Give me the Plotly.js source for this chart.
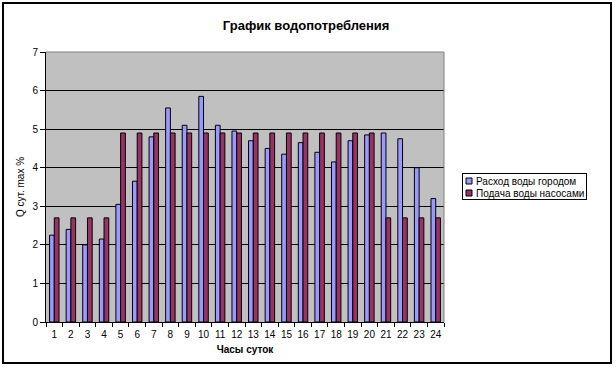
<!DOCTYPE html>
<html>
<head>
<meta charset="utf-8">
<script src="https://cdn.plot.ly/plotly-3.0.1.min.js"></script>
<style>
  html, body { margin: 0; padding: 0; background: #fff; }
  #wrap { position: relative; width: 616px; height: 367px; }
  #chart { position: absolute; left: 0; top: 0; width: 616px; height: 367px; }
  #frame { position: absolute; left: 2px; top: 2px; width: 606px; height: 358px; border: 2px solid #000; pointer-events: none; }
</style>
</head>
<body>
<div id="wrap">
  <div id="chart"></div>
  <div id="frame"></div>
</div>
<script>
const hours = ['1','2','3','4','5','6','7','8','9','10','11','12','13','14','15','16','17','18','19','20','21','22','23','24'];
const cityConsumption = [2.25, 2.4, 2.0, 2.15, 3.05, 3.65, 4.8, 5.55, 5.1, 5.85, 5.1, 4.95, 4.7, 4.5, 4.35, 4.65, 4.4, 4.15, 4.7, 4.85, 4.9, 4.75, 4.0, 3.2];
const pumpSupply = [2.7, 2.7, 2.7, 2.7, 4.9, 4.9, 4.9, 4.9, 4.9, 4.9, 4.9, 4.9, 4.9, 4.9, 4.9, 4.9, 4.9, 4.9, 4.9, 4.9, 2.7, 2.7, 2.7, 2.7];
const seriesNames = ['Расход воды городом', 'Подача воды насосами'];
const titleText = 'График водопотребления';
const xTitle = 'Часы суток';
const yTitle = 'Q сут. max %';

const font = 'Liberation Sans, Arial, sans-serif';

const traces = [
  { type: 'bar', name: seriesNames[0], x: hours, y: cityConsumption,
    marker: { color: '#9999FF', line: { color: '#000', width: 1 } } },
  { type: 'bar', name: seriesNames[1], x: hours, y: pumpSupply,
    marker: { color: '#993366', line: { color: '#000', width: 1 } } }
];

const layout = {
  width: 616, height: 367,
  margin: { l: 46, r: 160, t: 52, b: 45, pad: 0 },
  paper_bgcolor: '#fff', plot_bgcolor: '#C0C0C0',
  font: { family: font, size: 10, color: '#000' },
  title: { text: '<b>' + titleText + '</b>', font: { family: font, size: 13, color: '#000' },
           x: 0.497, xanchor: 'center', y: 0.93, yanchor: 'middle' },
  barmode: 'group', bargap: 0.43, bargroupgap: 0,
  showlegend: true,
  legend: { x: 1.01, xanchor: 'left', y: 0.5, yanchor: 'middle',
            bordercolor: '#000', borderwidth: 1, bgcolor: '#fff',
            font: { family: font, size: 10, color: '#000' },
            tracegroupgap: 0, itemwidth: 30 },
  xaxis: {
    type: 'category', showgrid: false, showline: true, linecolor: '#000', linewidth: 1,
    ticks: 'outside', tickson: 'boundaries', ticklen: 4, tickcolor: '#000', tickangle: 0,
    ticklabelstandoff: 3,
    tickfont: { family: font, size: 10, color: '#000' },
    title: { text: '<b>' + xTitle + '</b>', font: { family: font, size: 10, color: '#000' }, standoff: 6 },
    fixedrange: true
  },
  yaxis: {
    range: [0, 7], dtick: 1, tick0: 0, showgrid: true, gridcolor: '#000', gridwidth: 1,
    zeroline: false, showline: true, linecolor: '#000', linewidth: 1,
    ticks: 'outside', ticklen: 5, tickcolor: '#000',
    tickfont: { family: font, size: 10, color: '#000' },
    title: { text: yTitle, font: { family: font, size: 10, color: '#000' }, standoff: 5 },
    fixedrange: true
  },
  shapes: [
    { type: 'line', xref: 'paper', yref: 'paper', x0: 0, x1: 1, y0: 1, y1: 1, line: { color: '#808080', width: 1 } },
    { type: 'line', xref: 'paper', yref: 'paper', x0: 1, x1: 1, y0: 0, y1: 1, line: { color: '#808080', width: 1 } }
  ]
};

Plotly.newPlot('chart', traces, layout, { displayModeBar: false, staticPlot: true }).then(function (gd) {
  // Compact Excel-style legend
  const leg = gd.querySelector('.legend');
  if (!leg) return;
  leg.setAttribute('transform', 'translate(462,173)');
  const bg = leg.querySelector('rect.bg');
  if (bg) {
    bg.setAttribute('x', 0.5); bg.setAttribute('y', 0.5);
    bg.setAttribute('width', 124); bg.setAttribute('height', 26);
  }
  const sb = leg.querySelector('.scrollbox');
  if (sb) { sb.setAttribute('transform', 'translate(0,0)'); sb.removeAttribute('clip-path'); }
  const groups = leg.querySelectorAll('.groups');
  groups.forEach(function (g) { g.setAttribute('transform', 'translate(0,0)'); });
  const items = leg.querySelectorAll('.traces');
  items.forEach(function (t, i) {
    t.setAttribute('transform', 'translate(0,' + (8 + i * 12) + ')');
    t.querySelectorAll('.legendpoints path').forEach(function (p) {
      p.setAttribute('d', 'M3,3H-3V-3H3Z');
      p.setAttribute('transform', 'translate(7,0)');
      p.style.strokeWidth = '1px';
      p.style.stroke = '#000';
    });
    const txt = t.querySelector('.legendtext');
    if (txt) { txt.setAttribute('x', 14); txt.setAttribute('y', 3.5); }
  });
});
</script>
</body>
</html>
